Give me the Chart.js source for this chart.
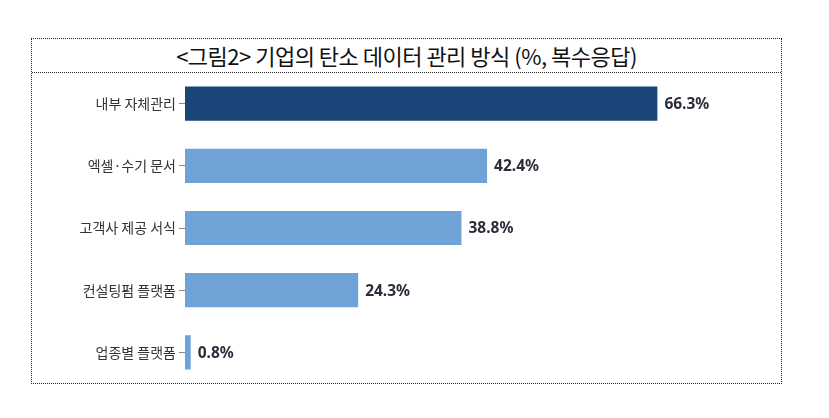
<!DOCTYPE html>
<html>
<head>
<meta charset="utf-8">
<script src="https://cdn.jsdelivr.net/npm/chart.js@4"></script>
<style>
  html, body { margin: 0; padding: 0; background: #fff; }
  #frame {
    position: absolute; left: 31px; top: 38px; width: 749px; height: 344px;
    border: 1px dotted #222;
  }
  #title {
    height: 33px; border-bottom: 1px dotted #222;
    font: 22px "Noto Sans CJK KR", sans-serif; color: #111;
    text-align: center; line-height: 33px; letter-spacing: -0.5px;
  }
  #wrap { position: absolute; left: 0; top: 22px; width: 749px; height: 334px; }
</style>
</head>
<body>
<div id="frame">
  <div id="title">&lt;그림2&gt; 기업의 탄소 데이터 관리 방식 (%, 복수응답)</div>
  <div id="wrap"><canvas id="c"></canvas></div>
</div>
<script>
// values
const categories = ["내부 자체관리", "엑셀·수기 문서", "고객사 제공 서식", "컨설팅펌 플랫폼", "업종별 플랫폼"];
const shares     = [66.3, 42.4, 38.8, 24.3, 0.8];
const barColors  = ["#1b4579", "#6fa3d7", "#6fa3d7", "#6fa3d7", "#6fa3d7"];

// value labels at the end of each bar
const endLabels = {
  id: "endLabels",
  afterDatasetsDraw(chart) {
    const { ctx } = chart;
    const meta = chart.getDatasetMeta(0);
    ctx.save();
    ctx.font = "bold 15.5px 'Noto Sans', sans-serif";
    ctx.fillStyle = "#2b2d3a";
    ctx.textAlign = "left";
    ctx.textBaseline = "middle";
    meta.data.forEach((bar, i) => {
      ctx.fillText(shares[i].toFixed(1) + "%", bar.x + 7, bar.y + 1);
    });
    ctx.restore();
  },
};

new Chart(document.getElementById("c"), {
  type: "bar",
  data: {
    labels: categories,
    datasets: [{
      data: shares,
      backgroundColor: barColors,
      borderWidth: 0,
      barPercentage: 0.55, categoryPercentage: 1.0,
    }],
  },
  options: {
    indexAxis: "y",
    responsive: true, maintainAspectRatio: false,
    animation: false,
    layout: { padding: { left: 0, right: 26, top: 0, bottom: 0 } },
    plugins: { legend: { display: false }, tooltip: { enabled: false } },
    scales: {
      x: { display: false, min: 0, max: 80 },
      y: {
        afterFit: s => { s.width = 153; },
        border: { display: false },
        grid: { drawOnChartArea: false, offset: false, tickLength: 6, color: "#888" },
        ticks: { color: "#333", padding: 3, font: { size: 14, family: "'Noto Sans CJK KR', sans-serif" } },
      },
    },
  },
  plugins: [endLabels],
});
</script>
</body>
</html>
